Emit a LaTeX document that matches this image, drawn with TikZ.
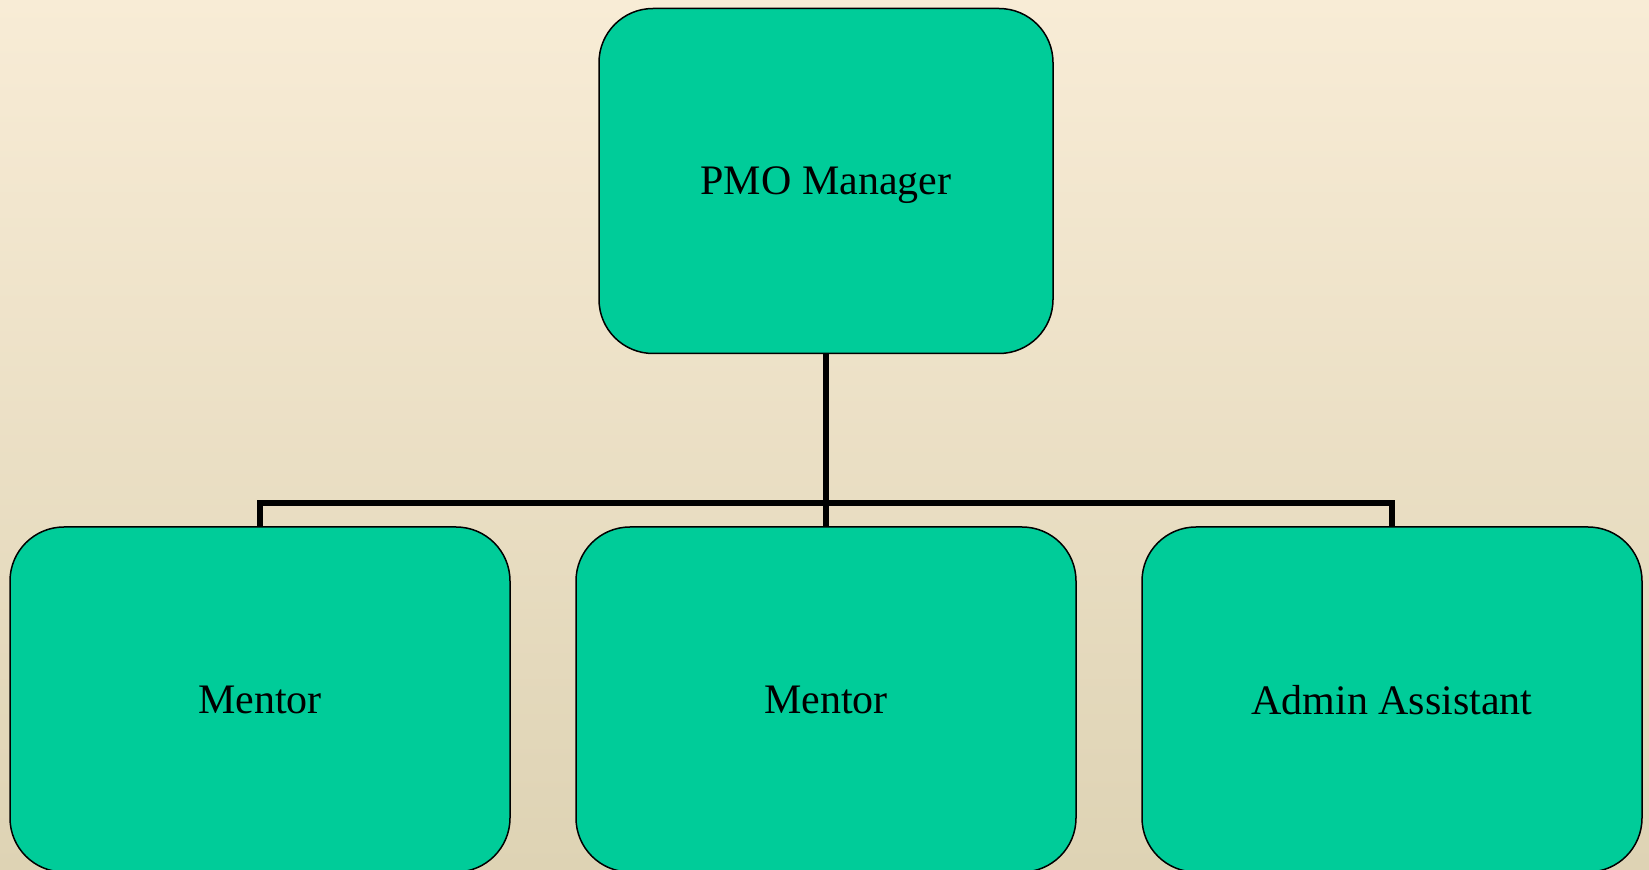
\documentclass[tikz,border=0pt]{standalone}
\usepackage{fontspec}
\setmainfont{Liberation Serif}
\definecolor{boxgreen}{HTML}{00CC99}
\definecolor{paperTop}{HTML}{F8ECD6}
\definecolor{paperMid}{HTML}{F1E9D4}
\definecolor{paperBot}{HTML}{DED3B4}
\begin{document}
\begin{tikzpicture}[x=0.5pt,y=-0.5pt,
  post/.style={draw = black, line width = 0.75pt, fill = boxgreen, rounded corners = 27pt,
    minimum width = 250pt, minimum height = 172.5pt, inner sep = 0pt, text depth = 0pt,
    font = \fontsize{21}{25}\selectfont},
  conn/.style={line width = 3pt, draw = black}]
\shade [top color = paperTop, middle color = paperMid, bottom color = paperBot] (0,0) rectangle (1649,870);
\useasboundingbox (0,0) rectangle (1649,870);
%%\draw[help lines] (0,0) grid (1649,870);
\node [post, minimum width = 227pt] (pmo) at (826,181) {PMO Manager};
\node [post] (mentorA) at (260,699.5) {Mentor};
\node [post] (mentorB) at (826,699.5) {Mentor};
\node [post] (admin) at (1392,699.5) {Admin Assistant};
\coordinate (bus) at (826,503);
\draw [conn] (pmo.south) -- (bus);
\draw [conn] (mentorA.north) |- (bus) -| (admin.north);
\draw [conn] (bus) -- (mentorB.north);
\end{tikzpicture}
\end{document}
